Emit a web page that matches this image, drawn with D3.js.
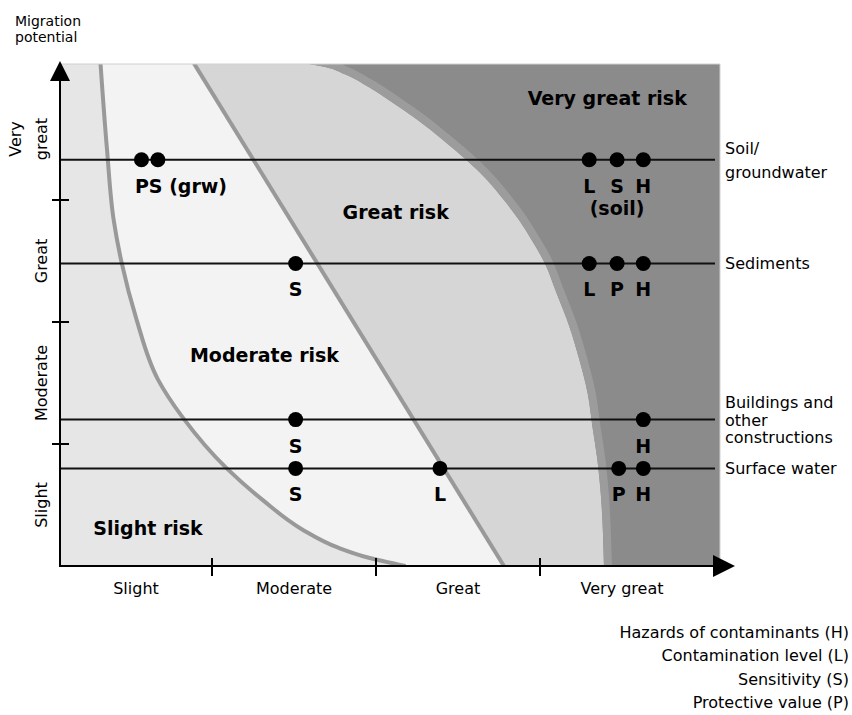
<!DOCTYPE html>
<html lang="en">
<head>
<meta charset="UTF-8">
<title>Risk classification</title>
<script src="https://cdn.jsdelivr.net/npm/d3@7/dist/d3.min.js"></script>
<style>
  body { margin: 0; background: #fff; }
  text { font-family: "DejaVu Sans", sans-serif; fill: #000; }
  .bold { font-weight: bold; }
</style>
</head>
<body>
<svg width="852" height="715"></svg>
<script>
// levels on both axes
var xLevels = ["Slight", "Moderate", "Great", "Very great"];
var yLevels = ["Slight", "Moderate", "Great", "Very great"];

// media (horizontal lines) and their migration potential
var media = [["Soil/", "groundwater"], ["Sediments"], ["Buildings and", "other", "constructions"], ["Surface water"]];
var mediaLevel = [3.33, 2.48, 1.20, 0.80];

// points: which medium, x level, letter underneath
var pointMedium = [0, 0, 0, 0, 0, 1, 1, 1, 1, 2, 2, 3, 3, 3, 3];
var pointX = [0.57, 0.67, 3.30, 3.47, 3.63, 1.51, 3.30, 3.47, 3.63, 1.51, 3.63, 1.51, 2.39, 3.48, 3.63];
var pointLetter = ["", "", "L", "S", "H", "S", "L", "P", "H", "S", "H", "S", "L", "P", "H"];

// extra notes under points
var notes = ["PS (grw)", "(soil)"];
var noteMedium = [0, 0];
var noteX = [0.53, 3.47];

// region boundaries (x level, y level), top to bottom
var slightEdgeX = [0.32, 0.36, 0.40, 0.45, 0.54, 0.67, 0.82, 1.09, 1.31, 1.55, 1.77, 1.95, 2.18];
var slightEdgeY = [4.12, 3.41, 2.84, 2.48, 2.02, 1.53, 1.22, 0.80, 0.54, 0.30, 0.15, 0.07, 0.00];
var moderateEdgeX = [0.89, 2.78];
var moderateEdgeY = [4.12, 0.00];
var greatEdgeX = [1.57, 1.69, 1.81, 1.95, 2.10, 2.25, 2.41, 2.55, 2.68, 2.78, 2.87, 2.95, 3.03, 3.10, 3.18, 3.24, 3.29, 3.32, 3.35, 3.37, 3.39];
var greatEdgeY = [4.12, 4.09, 4.03, 3.93, 3.80, 3.66, 3.49, 3.33, 3.16, 3.00, 2.84, 2.67, 2.48, 2.24, 1.96, 1.69, 1.42, 1.14, 0.87, 0.60, 0.00];

var regionNames = ["Slight risk", "Moderate risk", "Great risk", "Very great risk"];
var legendItems = ["Hazards of contaminants (H)", "Contamination level (L)", "Sensitivity (S)", "Protective value (P)"];

// layout
var plotLeft = 60, plotRight = 720, plotTop = 64, plotBottom = 566;
var regionFill = ["#e6e6e6", "#f3f3f3", "#d6d6d6", "#8b8b8b"];
var regionLabelAt = [[0.61, 0.31], [1.32, 1.73], [2.12, 2.90], [3.41, 3.84]];

var svg = d3.select("svg");

var x = d3.scaleLinear().domain([0, 4]).range([48, 704]);
var y = d3.scaleLinear().domain([0, 4]).range([plotBottom, 78]);

function edgePoints(xs, ys) {
    return xs.map(function(v, i) { return [x(v), y(ys[i])]; });
}
var line = d3.line().curve(d3.curveMonotoneY);
function regionRightOf(pts) {
    return line(pts) + "L" + plotRight + "," + plotBottom + "L" + plotRight + "," + plotTop + "Z";
}

svg.append("clipPath").attr("id", "plotClip")
    .append("rect").attr("x", plotLeft).attr("y", plotTop)
    .attr("width", plotRight - plotLeft).attr("height", plotBottom - plotTop);

var slightPts = edgePoints(slightEdgeX, slightEdgeY);
var moderatePts = edgePoints(moderateEdgeX, moderateEdgeY);
var greatPts = edgePoints(greatEdgeX, greatEdgeY);

svg.append("clipPath").attr("id", "vgClip")
    .append("path").attr("d", regionRightOf(greatPts));

var g = svg.append("g").attr("clip-path", "url(#plotClip)");
g.append("rect").attr("x", plotLeft).attr("y", plotTop)
    .attr("width", plotRight - plotLeft).attr("height", plotBottom - plotTop)
    .attr("fill", regionFill[0]);
g.append("path").attr("d", regionRightOf(slightPts)).attr("fill", regionFill[1]);
g.append("path").attr("d", regionRightOf(moderatePts)).attr("fill", regionFill[2]);
g.append("path").attr("d", regionRightOf(greatPts)).attr("fill", regionFill[3]);

// border band of very great risk
g.append("path").attr("d", line(greatPts))
    .attr("clip-path", "url(#vgClip)")
    .attr("fill", "none").attr("stroke", "#9c9c9c").attr("stroke-width", 16);

g.append("path").attr("d", line(slightPts))
    .attr("fill", "none").attr("stroke", "#999").attr("stroke-width", 4);
g.append("path").attr("d", line(moderatePts))
    .attr("fill", "none").attr("stroke", "#999").attr("stroke-width", 4);

// frame
svg.append("path")
    .attr("d", "M" + plotLeft + "," + plotTop + "H" + plotRight + "V" + plotBottom)
    .attr("fill", "none").attr("stroke", "#cfcfcf").attr("stroke-width", 1);

// region labels
svg.selectAll(".region").data(regionNames).enter().append("text")
    .attr("class", "bold")
    .attr("x", function(d, i) { return x(regionLabelAt[i][0]); })
    .attr("y", function(d, i) { return y(regionLabelAt[i][1]) + 7; })
    .attr("text-anchor", "middle")
    .style("font-size", "19px")
    .text(function(d) { return d; });

// media lines
svg.selectAll(".medium").data(mediaLevel).enter().append("line")
    .attr("x1", plotLeft).attr("x2", 715)
    .attr("y1", function(d) { return y(d); }).attr("y2", function(d) { return y(d); })
    .attr("stroke", "#111").attr("stroke-width", 2);

// media names on the right
media.forEach(function(lines, i) {
    var lh = i === 0 ? 24 : 17.5;
    var y0 = y(mediaLevel[i]) + 6 - (lines.length - 1) * lh / 2;
    var t = svg.append("text").attr("x", 725).style("font-size", "16px");
    lines.forEach(function(s, k) {
        t.append("tspan").attr("x", 725).attr("y", y0 + k * lh).text(s);
    });
});

// points
var idx = d3.range(pointX.length);
svg.selectAll(".pt").data(idx).enter().append("circle")
    .attr("cx", function(i) { return x(pointX[i]); })
    .attr("cy", function(i) { return y(mediaLevel[pointMedium[i]]); })
    .attr("r", 7.5).attr("fill", "#000");
svg.selectAll(".ptlabel").data(idx).enter().append("text")
    .attr("class", "bold")
    .attr("x", function(i) { return x(pointX[i]); })
    .attr("y", function(i) { return y(mediaLevel[pointMedium[i]]) + 33; })
    .attr("text-anchor", "middle")
    .style("font-size", "19px")
    .text(function(i) { return pointLetter[i]; });

svg.selectAll(".note").data(notes).enter().append("text")
    .attr("class", "bold")
    .attr("x", function(d, i) { return x(noteX[i]); })
    .attr("y", function(d, i) { return y(mediaLevel[noteMedium[i]]) + (i === 0 ? 33 : 55); })
    .attr("text-anchor", function(d, i) { return i === 0 ? "start" : "middle"; })
    .style("font-size", "19px")
    .text(function(d) { return d; });

// axes
svg.append("line").attr("x1", plotLeft).attr("x2", 718)
    .attr("y1", plotBottom).attr("y2", plotBottom)
    .attr("stroke", "#000").attr("stroke-width", 2);
svg.append("path")
    .attr("d", "M735," + plotBottom + "L713," + (plotBottom - 11) + "L713," + (plotBottom + 11) + "Z")
    .attr("fill", "#000");
svg.append("line").attr("x1", plotLeft).attr("x2", plotLeft)
    .attr("y1", plotBottom + 1).attr("y2", 80)
    .attr("stroke", "#000").attr("stroke-width", 2);
svg.append("path")
    .attr("d", "M" + plotLeft + ",61L" + (plotLeft - 10) + ",81L" + (plotLeft + 10) + ",81Z")
    .attr("fill", "#000");

// ticks
svg.selectAll(".xtick").data([1, 2, 3]).enter().append("line")
    .attr("x1", function(d) { return x(d); }).attr("x2", function(d) { return x(d); })
    .attr("y1", plotBottom - 8).attr("y2", plotBottom + 10)
    .attr("stroke", "#000").attr("stroke-width", 2);
svg.selectAll(".ytick").data([1, 2, 3]).enter().append("line")
    .attr("x1", plotLeft - 8).attr("x2", plotLeft + 9)
    .attr("y1", function(d) { return y(d); }).attr("y2", function(d) { return y(d); })
    .attr("stroke", "#000").attr("stroke-width", 2);

// axis labels
svg.selectAll(".xlab").data(xLevels).enter().append("text")
    .attr("x", function(d, i) { return (Math.max(x(i), plotLeft) + x(i + 1)) / 2; })
    .attr("y", 594)
    .attr("text-anchor", "middle")
    .style("font-size", "16px")
    .text(function(d) { return d; });

yLevels.forEach(function(d, i) {
    var cy = y(i + 0.5);
    var words = i === 3 ? ["Very", "great"] : [d];
    words.forEach(function(w, k) {
        var bx = words.length === 2 ? (k === 0 ? 21 : 47) : 47;
        svg.append("text")
            .attr("transform", "translate(" + bx + "," + cy + ") rotate(-90)")
            .attr("text-anchor", "middle")
            .style("font-size", "16px")
            .text(w);
    });
});

svg.append("text").attr("x", 15).attr("y", 26).style("font-size", "14px").text("Migration");
svg.append("text").attr("x", 15).attr("y", 42).style("font-size", "14px").text("potential");

// legend
svg.selectAll(".legend").data(legendItems).enter().append("text")
    .attr("x", 849)
    .attr("y", function(d, i) { return 638 + i * 23.4; })
    .attr("text-anchor", "end")
    .style("font-size", "16px")
    .text(function(d) { return d; });
</script>
</body>
</html>
